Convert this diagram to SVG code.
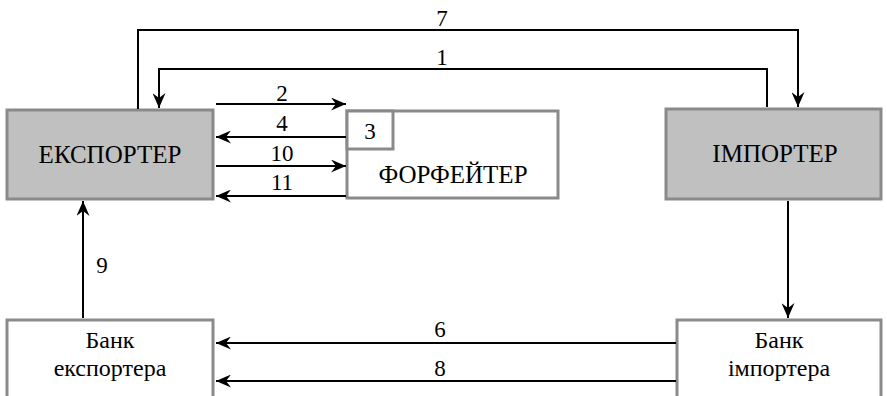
<svg xmlns="http://www.w3.org/2000/svg" width="887" height="396" viewBox="0 0 887 396">
<style>
.box{fill:#fff;stroke:#8a8a8a;stroke-width:3}
.gbox{fill:#c0c0c0;stroke:#8a8a8a;stroke-width:3}
.t{font-size:25px}
.n{font-size:23px}
.b{font-size:24px}
.c{fill:none;stroke:#000;stroke-width:2}
</style>
<defs>
<marker id="ah" markerWidth="15" markerHeight="13" viewBox="0 0 15 13" refX="15" refY="6.5" orient="auto" markerUnits="userSpaceOnUse">
<path d="M0,0 L15,6.5 L0,13 L5,6.5 Z" fill="#000"/>
</marker>
</defs>
<rect width="887" height="396" fill="#fff"/>
<g font-family="Liberation Serif, Times New Roman, serif" fill="#000" text-anchor="middle">
<g id="exporter"><rect class="gbox" x="7" y="110" width="206" height="89"/><text class="t" x="110" y="163">ЕКСПОРТЕР</text></g>
<g id="forfaiter"><rect class="box" x="347" y="111" width="211" height="87"/><text class="t" x="453" y="183">ФОРФЕЙТЕР</text></g>
<g id="step3"><rect class="box" x="347" y="111" width="46" height="38"/><text class="n" x="370" y="139">3</text></g>
<g id="importer"><rect class="gbox" x="666" y="109" width="215" height="90"/><text class="t" x="775" y="162">ІМПОРТЕР</text></g>
<g id="bank-exporter"><rect class="box" x="7" y="320" width="206" height="80"/><text class="b" x="110" y="348">Банк</text><text class="b" x="110" y="376">експортера</text></g>
<g id="bank-importer"><rect class="box" x="677" y="320" width="204" height="80"/><text class="b" x="779" y="348">Банк</text><text class="b" x="779" y="376">імпортера</text></g>
<g id="connectors">
<polyline class="c" points="138,109 138,30 798,30 798,107" marker-end="url(#ah)"/>
<polyline class="c" points="767,107 767,69 159,69 159,108" marker-end="url(#ah)"/>
<line class="c" x1="216" y1="104" x2="346" y2="104" marker-end="url(#ah)"/>
<line class="c" x1="346" y1="137" x2="216" y2="137" marker-end="url(#ah)"/>
<line class="c" x1="216" y1="166" x2="346" y2="166" marker-end="url(#ah)"/>
<line class="c" x1="346" y1="196" x2="216" y2="196" marker-end="url(#ah)"/>
<line class="c" x1="83" y1="318" x2="83" y2="201" marker-end="url(#ah)"/>
<line class="c" x1="788" y1="201" x2="788" y2="318" marker-end="url(#ah)"/>
<line class="c" x1="676" y1="343" x2="216" y2="343" marker-end="url(#ah)"/>
<line class="c" x1="676" y1="381" x2="216" y2="381" marker-end="url(#ah)"/>
<text class="n" x="442" y="26">7</text>
<text class="n" x="442" y="65">1</text>
<text class="n" x="282" y="101">2</text>
<text class="n" x="282" y="131">4</text>
<text class="n" x="282" y="161">10</text>
<text class="n" x="282" y="190">11</text>
<text class="n" x="102" y="273">9</text>
<text class="n" x="440" y="337">6</text>
<text class="n" x="440" y="376">8</text>
</g>
</g>
</svg>
